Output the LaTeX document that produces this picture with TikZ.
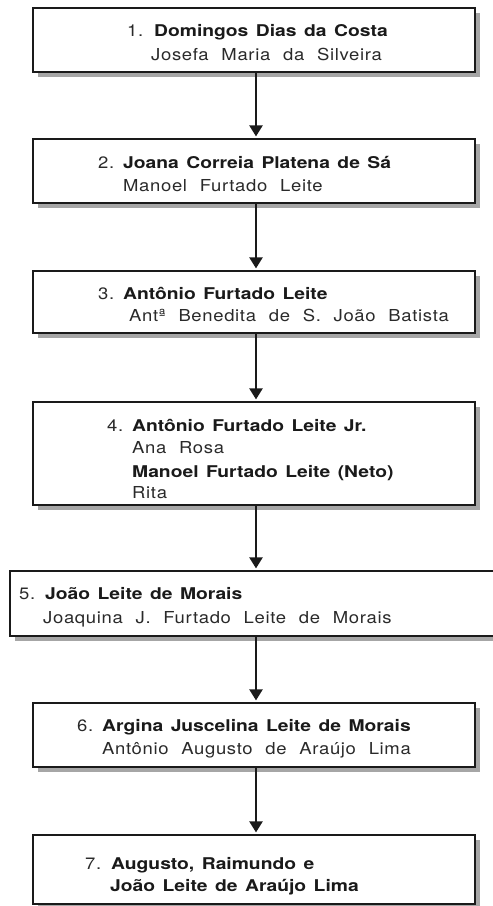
\documentclass[tikz,border=0pt]{standalone}
\usepackage{fontspec}
\setmainfont{TeX Gyre Heros}
\newfontfamily\regfont[FakeStretch=1.12,LetterSpace=4,WordSpace=2.2]{TeX Gyre Heros}
\newfontfamily\boldfont[FakeStretch=1.19,WordSpace=1.4]{TeX Gyre Heros Bold}
\usetikzlibrary{arrows.meta,shadows}
\definecolor{shadowgray}{HTML}{A6A6A6}
\definecolor{ink}{HTML}{1A1A1A}
\definecolor{textgray}{HTML}{2A2A2A}
\tikzset{
  box/.style={draw=ink, line width=2.6pt, fill=white, inner sep=0pt,
    drop shadow={shadow xshift=4.5pt, shadow yshift=-4.5pt, fill=shadowgray, opacity=1, draw=none}},
  conn/.style={draw=ink, line width=2.3pt, -{Triangle[width=13pt,length=11pt]}, shorten >=1.3pt},
  num/.style={anchor=base west, inner sep=0pt, text=textgray, font=\regfont\fontsize{16.5}{20}\selectfont},
  bname/.style={anchor=base west, inner sep=0pt, text=ink, font=\boldfont\fontsize{16.2}{20}\selectfont},
  rname/.style={anchor=base west, inner sep=0pt, text=textgray, font=\regfont\fontsize{16.5}{20}\selectfont},
}
\begin{document}
\begin{tikzpicture}[x=1pt,y=-1pt]
\useasboundingbox (0,0) rectangle (493,906);
\coordinate (ax) at (256,0);
% boxes
\node[box, minimum width=442pt, minimum height=64pt] (b1) at (254,40) {};
\node[box, minimum width=442pt, minimum height=64pt] (b2) at (254,171) {};
\node[box, minimum width=442pt, minimum height=62pt] (b3) at (254,302) {};
\node[box, minimum width=442pt, minimum height=103pt] (b4) at (254,453.5) {};
\node[box, minimum width=492pt, minimum height=65pt] (b5) at (256,603.5) {};
\node[box, minimum width=442pt, minimum height=64pt] (b6) at (254,735) {};
\node[box, minimum width=442pt, minimum height=69pt] (b7) at (254,869.5) {};
% connectors
\draw[conn] (b1.south -| ax) -- (b2.north -| ax);
\draw[conn] (b2.south -| ax) -- (b3.north -| ax);
\draw[conn] (b3.south -| ax) -- (b4.north -| ax);
\draw[conn] (b4.south -| ax) -- (b5.north -| ax);
\draw[conn] (b5.south -| ax) -- (b6.north -| ax);
\draw[conn] (b6.south -| ax) -- (b7.north -| ax);
% texts
\node[num] (n1) at (127,36.3) {1.};
\node[bname] (t1a) at (154,36.3) {Domingos Dias da Costa};
\node[rname] (t1b) at (151,60.3) {Josefa Maria da Silveira};
\node[num] (n2) at (98,168) {2.};
\node[bname] (t2a) at (123,168) {Joana Correia Platena de Sá};
\node[rname] (t2b) at (123,191) {Manoel Furtado Leite};
\node[num] (n3) at (98,299) {3.};
\node[bname] (t3a) at (123,299) {Antônio Furtado Leite};
\node[rname] (t3b) at (129,321) {Antª Benedita de S. João Batista};
\node[num] (n4) at (107,431) {4.};
\node[bname] (t4a) at (132,431) {Antônio Furtado Leite Jr.};
\node[rname] (t4b) at (132,453) {Ana Rosa};
\node[bname] (t4c) at (132,477) {Manoel Furtado Leite (Neto)};
\node[rname] (t4d) at (132,498) {Rita};
\node[num] (n5) at (19,599) {5.};
\node[bname] (t5a) at (45,599) {João Leite de Morais};
\node[rname] (t5b) at (43,623) {Joaquina J. Furtado Leite de Morais};
\node[num] (n6) at (77,731) {6.};
\node[bname] (t6a) at (102,731) {Argina Juscelina Leite de Morais};
\node[rname] (t6b) at (102,754) {Antônio Augusto de Araújo Lima};
\node[num] (n7) at (85,869) {7.};
\node[bname] (t7a) at (111,869) {Augusto, Raimundo e};
\node[bname] (t7b) at (110,891) {João Leite de Araújo Lima};
\end{tikzpicture}
\end{document}
